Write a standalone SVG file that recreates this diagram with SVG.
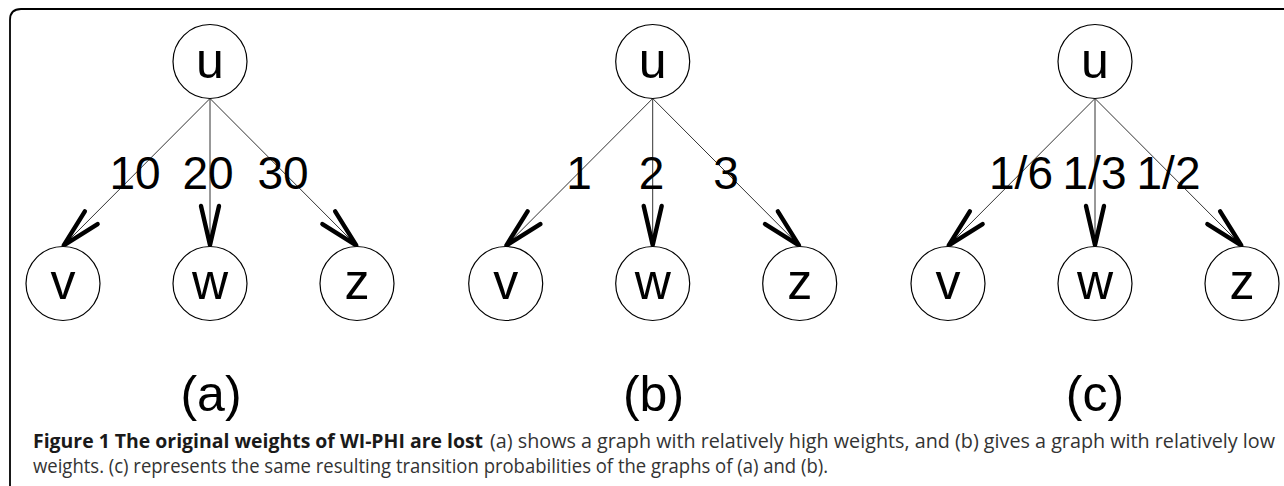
<svg xmlns="http://www.w3.org/2000/svg" width="1284" height="486" viewBox="0 0 1284 486">
<style>
.node circle{fill:#fff;stroke:#000;stroke-width:1.2}
.node text{font-family:"Liberation Sans",Arial,sans-serif;font-size:50px;text-anchor:middle;fill:#000}
.edge{stroke:#333;stroke-width:1;fill:none;marker-end:url(#arr)}
.elab{font-family:"Liberation Sans",Arial,sans-serif;font-size:46px;text-anchor:middle;fill:#000}
.plab{font-family:"Liberation Sans",Arial,sans-serif;font-size:50px;text-anchor:middle;fill:#000}
.capb{font-family:"Open Sans","Noto Sans",sans-serif;font-size:19.5px;font-weight:bold;fill:#1a1a1a}
.capr{font-family:"Open Sans","Noto Sans",sans-serif;font-size:19.5px;fill:#333}
</style>
<defs>
<marker id="arr" markerUnits="userSpaceOnUse" viewBox="-50 -30 60 60" markerWidth="60" markerHeight="60" refX="0" refY="0" orient="auto" overflow="visible">
<path d="M-40,-9 L-1,0 L-40,9" fill="none" stroke="#000" stroke-width="4.4" stroke-linejoin="round" stroke-linecap="round"/>
</marker>
</defs>
<rect width="1284" height="486" fill="#fff"/>
<path d="M10,486 L10,20 Q10,9 21,9 L1284,9" fill="none" stroke="#000" stroke-width="1.8"/>

<g id="connectors">
<line class="edge" x1="210" y1="98.5" x2="63" y2="246"/>
<line class="edge" x1="210" y1="98.5" x2="210" y2="246"/>
<line class="edge" x1="210" y1="98.5" x2="357" y2="246"/>
<line class="edge" x1="652.7" y1="98.5" x2="505.7" y2="246"/>
<line class="edge" x1="652.7" y1="98.5" x2="652.7" y2="246"/>
<line class="edge" x1="652.7" y1="98.5" x2="799.7" y2="246"/>
<line class="edge" x1="1095" y1="98.5" x2="948" y2="246"/>
<line class="edge" x1="1095" y1="98.5" x2="1095" y2="246"/>
<line class="edge" x1="1095" y1="98.5" x2="1242" y2="246"/>
</g>

<g id="edge-labels">
<text class="elab" x="135" y="189">10</text>
<text class="elab" x="208" y="189">20</text>
<text class="elab" x="283" y="189">30</text>
<text class="elab" x="579" y="189">1</text>
<text class="elab" x="651.5" y="189">2</text>
<text class="elab" x="726" y="189">3</text>
<text class="elab" x="1021" y="189">1/6</text>
<text class="elab" x="1094.5" y="189">1/3</text>
<text class="elab" x="1168.5" y="189">1/2</text>
</g>

<g id="a-u" class="node"><circle cx="210" cy="61.5" r="37"/><text x="210" y="78">u</text></g>
<g id="a-v" class="node"><circle cx="63" cy="283.5" r="37"/><text x="63" y="298.5">v</text></g>
<g id="a-w" class="node"><circle cx="210" cy="283.5" r="37"/><text x="210" y="298.5">w</text></g>
<g id="a-z" class="node"><circle cx="357" cy="283.5" r="37"/><text x="357" y="298.5">z</text></g>

<g id="b-u" class="node"><circle cx="652.7" cy="61.5" r="37"/><text x="652.7" y="78">u</text></g>
<g id="b-v" class="node"><circle cx="505.7" cy="283.5" r="37"/><text x="505.7" y="298.5">v</text></g>
<g id="b-w" class="node"><circle cx="652.7" cy="283.5" r="37"/><text x="652.7" y="298.5">w</text></g>
<g id="b-z" class="node"><circle cx="799.7" cy="283.5" r="37"/><text x="799.7" y="298.5">z</text></g>

<g id="c-u" class="node"><circle cx="1095" cy="61.5" r="37"/><text x="1095" y="78">u</text></g>
<g id="c-v" class="node"><circle cx="948" cy="283.5" r="37"/><text x="948" y="298.5">v</text></g>
<g id="c-w" class="node"><circle cx="1095" cy="283.5" r="37"/><text x="1095" y="298.5">w</text></g>
<g id="c-z" class="node"><circle cx="1242" cy="283.5" r="37"/><text x="1242" y="298.5">z</text></g>

<g id="panel-labels">
<text class="plab" x="211" y="411">(a)</text>
<text class="plab" x="653.5" y="411">(b)</text>
<text class="plab" x="1095" y="411">(c)</text>
</g>

<g id="caption">
<text class="capb" x="33" y="448" textLength="450" lengthAdjust="spacingAndGlyphs">Figure 1 The original weights of WI-PHI are lost</text>
<text class="capr" x="490" y="448" textLength="785" lengthAdjust="spacingAndGlyphs">(a) shows a graph with relatively high weights, and (b) gives a graph with relatively low</text>
<text class="capr" x="33" y="473" textLength="795" lengthAdjust="spacingAndGlyphs">weights. (c) represents the same resulting transition probabilities of the graphs of (a) and (b).</text>
</g>
</svg>
